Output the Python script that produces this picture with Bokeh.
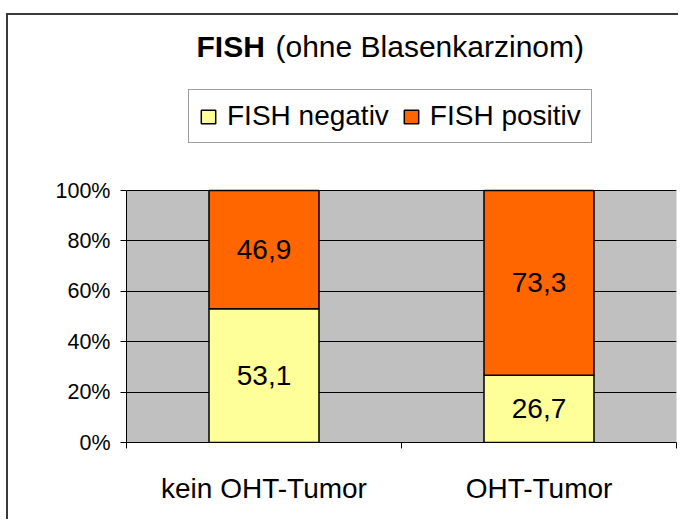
from bokeh.plotting import figure
from bokeh.models import (ColumnDataSource, FixedTicker, Label, Range1d, LinearAxis, BoxAnnotation)
from bokeh.core.properties import value
from bokeh.embed import file_html
from bokeh.resources import INLINE

categories = ["kein OHT-Tumor", "OHT-Tumor"]
fish_negativ = [53.1, 26.7]
fish_positiv = [46.9, 73.3]
series_names = ["FISH negativ", "FISH positiv"]
y_ticks = [0, 20, 40, 60, 80, 100]
y_tick_labels = ["0%", "20%", "40%", "60%", "80%", "100%"]

FONT = "Liberation Sans"
YELLOW = "#FFFF99"
ORANGE = "#FF6600"

n_cat = len(categories)
centers = [i + 0.5 for i in range(n_cat)]
src = ColumnDataSource(dict(x=centers, cat=categories, neg=fish_negativ, pos=fish_positiv))

p = figure(x_range=Range1d(0, n_cat), y_range=Range1d(0, 167.5),
           width=672, height=506, output_backend="svg", toolbar_location=None,
           min_border_left=118, min_border_right=4, min_border_top=5, min_border_bottom=79,
           x_axis_location=None)
p.styles = {"border-top": "2px solid #3a3a3a", "border-left": "2px solid #3a3a3a",
            "border-right": "none", "box-shadow": "none", "outline": "none",
            "margin-top": "13px", "margin-left": "6px"}
p.background_fill_color = "white"
p.border_fill_color = "white"
p.outline_line_color = None

# grey plot area (0-100 %)
p.add_layout(BoxAnnotation(bottom=y_ticks[0], top=y_ticks[-1], fill_color="#C0C0C0", fill_alpha=1,
                           line_color="#808080", line_width=1, level="image"))

# y axis
yt = FixedTicker(ticks=y_ticks)
p.yaxis.ticker = yt
p.yaxis.bounds = (y_ticks[0], y_ticks[-1])
p.yaxis.major_label_overrides = {t: l for t, l in zip(y_ticks, y_tick_labels)}
p.yaxis.major_label_text_font = FONT
p.yaxis.major_label_text_font_size = "21.5px"
p.yaxis.major_label_text_color = "black"
p.yaxis.major_tick_out = 6
p.yaxis.major_tick_in = 0
p.yaxis.minor_tick_line_color = None
p.yaxis.axis_line_color = "black"
p.yaxis.major_tick_line_color = "black"
p.yaxis.major_label_standoff = 10
p.ygrid.ticker = yt
p.ygrid.grid_line_color = "black"
p.ygrid.grid_line_width = 1
p.ygrid.level = "underlay"
p.xgrid.visible = False

# tick-only axis at category boundaries
bounds = list(range(n_cat + 1))
tick_axis = LinearAxis(ticker=FixedTicker(ticks=bounds),
                       major_label_overrides={b: "" for b in bounds},
                       major_label_text_font_size="1px", major_label_standoff=0,
                       major_tick_out=6, major_tick_in=0, minor_tick_line_color=None,
                       axis_line_color="black", major_tick_line_color="black")
p.add_layout(tick_axis, "below")

# category label axis
cat_axis = LinearAxis(ticker=FixedTicker(ticks=centers),
                      major_label_overrides={c: l for c, l in zip(centers, categories)},
                      axis_line_color=None, major_tick_line_color=None, minor_tick_line_color=None,
                      major_label_text_font=FONT, major_label_text_font_size="28px",
                      major_label_text_color="black", major_label_standoff=18)
p.add_layout(cat_axis, "below")

# bars
p.vbar_stack(["neg", "pos"], x="x", width=0.4, source=src,
             color=[YELLOW, ORANGE], line_color="black", line_width=1.5,
             legend_label=series_names)

# value labels
lab_x, lab_y, lab_t = [], [], []
for c, n, q in zip(centers, fish_negativ, fish_positiv):
    lab_x += [c, c]
    lab_y += [n / 2, n + q / 2]
    lab_t += [f"{n:.1f}".replace(".", ","), f"{q:.1f}".replace(".", ",")]
lsrc = ColumnDataSource(dict(x=lab_x, y=lab_y, t=lab_t))
p.text(x="x", y="y", text="t", source=lsrc, text_font=value(FONT),
       text_font_size="28px", text_align="center", text_baseline="middle", text_color="black")

# title
p.add_layout(Label(x=0.2545, y=157.2, text="FISH", text_font=FONT, text_font_size="30px",
                   text_font_style="bold", text_align="left", text_baseline="alphabetic",
                   text_color="black"))
p.add_layout(Label(x=0.5418, y=157.2, text="(ohne Blasenkarzinom)", text_font=FONT,
                   text_font_size="30px", text_align="left", text_baseline="alphabetic",
                   text_color="black"))

# legend
lg = p.legend[0]
lg.location = (62, 299)
lg.orientation = "horizontal"
lg.label_text_font = FONT
lg.label_text_font_size = "28px"
lg.label_text_color = "black"
lg.glyph_width = 18
lg.glyph_height = 17
lg.label_standoff = 10
lg.spacing = 13
lg.padding = 10
lg.margin = 0
lg.border_line_color = "#404040"
lg.border_line_width = 1
lg.background_fill_color = "white"
lg.background_fill_alpha = 1

open("out.html", "w").write(file_html(p, INLINE))
